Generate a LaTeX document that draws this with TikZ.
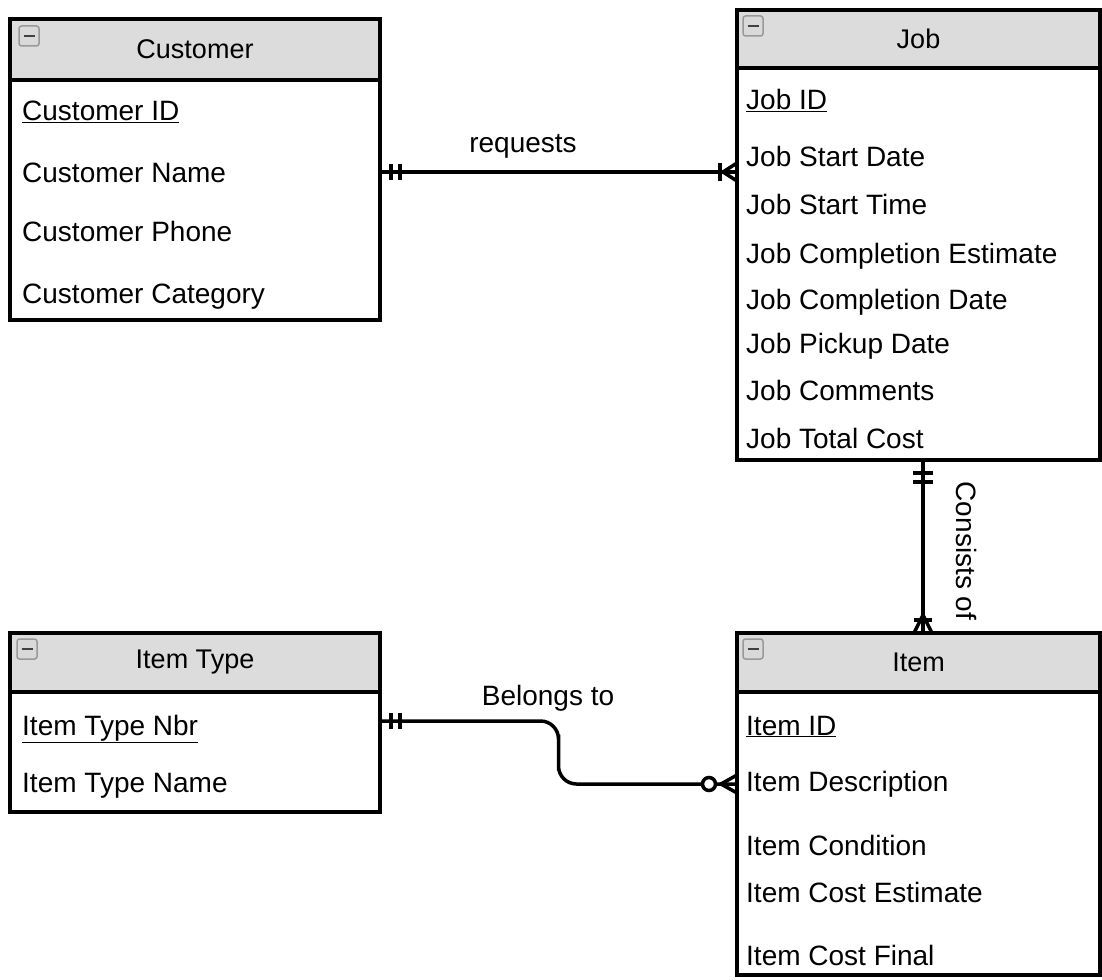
\documentclass[tikz,border=0pt]{standalone}
\usepackage{fontspec}
\setmainfont{Liberation Sans}
\usepackage{tikz}
\usetikzlibrary{calc, positioning}
\usepackage{xcolor}
\definecolor{headgray}{HTML}{DCDCDC}
\newcommand{\attrfont}{\fontsize{28}{34}\selectfont}
\newcommand{\headfont}{\fontsize{27}{32}\selectfont}
\newcommand{\pkey}[1]{\underline{#1}}

\begin{document}
\begin{tikzpicture}[x=1pt, y=-1pt,
    entbody/.style={draw, line width=4pt, anchor=north west, inner sep=0pt, outer sep=0pt},
    enthead/.style={entbody, fill=headgray, font=\headfont},
    minusbox/.style={draw=gray!80, fill=gray!30, rounded corners=2.5pt, line width=1.5pt,
        minimum size=20pt, inner sep=0pt,
        path picture={\draw[line width=2.5pt, black!75]
            ([xshift=4.5pt]path picture bounding box.west) --
            ([xshift=-4.5pt]path picture bounding box.east);}},
    attr/.style={anchor=base west, inner sep=0pt, font=\attrfont},
    rel/.style={line width=3.5pt},
    relmark/.style={line width=4pt},
    rellabel/.style={inner sep=0pt, font=\attrfont}]
    \useasboundingbox (0,0) rectangle (1102,979);

    % Customer
    \node[enthead, minimum width=370pt, minimum height=61pt] (custhead) at (10,19) {Customer};
    \node[entbody, minimum width=370pt, minimum height=240pt] (cust) at (custhead.south west) {};
    \node[minusbox] (custicon) at ($(custhead.north west)+(19,17)$) {};
    \node[attr] (custid) at (22,121) {\pkey{Customer ID}};
    \node[attr] (custname) at (22,182) {Customer Name};
    \node[attr] (custphone) at (22,241) {Customer Phone};
    \node[attr] (custcat) at (22,303) {Customer Category};

    % Job
    \node[enthead, minimum width=363pt, minimum height=58pt] (jobhead) at (737,10) {Job};
    \node[entbody, minimum width=363pt, minimum height=392pt] (job) at (jobhead.south west) {};
    \node[minusbox] (jobicon) at ($(jobhead.north west)+(16,16)$) {};
    \node[attr] (jobid) at (746,110) {\pkey{Job ID}};
    \node[attr] (jobstartd) at (746,166) {Job Start Date};
    \node[attr] (jobstartt) at (746,214) {Job Start Time};
    \node[attr] (jobest) at (746,263) {Job Completion Estimate};
    \node[attr] (jobcompl) at (746,309) {Job Completion Date};
    \node[attr] (jobpick) at (746,353) {Job Pickup Date};
    \node[attr] (jobcomm) at (746,400) {Job Comments};
    \node[attr] (jobcost) at (746,448) {Job Total Cost};

    % Item Type
    \node[enthead, minimum width=370pt, minimum height=59pt] (itypehead) at (10,633) {Item Type};
    \node[entbody, minimum width=370pt, minimum height=120pt] (itype) at (itypehead.south west) {};
    \node[minusbox] (itypeicon) at ($(itypehead.north west)+(17,16)$) {};
    \node[attr] (itypenbr) at (22,735) {\pkey{Item Type Nbr}};
    \node[attr] (itypename) at (22,792) {Item Type Name};

    % Item
    \node[enthead, minimum width=363pt, minimum height=59pt] (itemhead) at (737,633) {Item};
    \node[entbody, minimum width=363pt, minimum height=283pt] (item) at (itemhead.south west) {};
    \node[minusbox] (itemicon) at ($(itemhead.north west)+(16,16)$) {};
    \node[attr] (itemid) at (746,735) {\pkey{Item ID}};
    \node[attr] (itemdesc) at (746,791) {Item Description};
    \node[attr] (itemcond) at (746,855) {Item Condition};
    \node[attr] (itemest) at (746,902) {Item Cost Estimate};
    \node[attr] (itemfinal) at (746,965) {Item Cost Final};

    % requests: Customer (one and only one) -- Job (one or many)
    \coordinate (reqA) at (cust.east |- 0,172);
    \coordinate (reqB) at (job.west |- 0,172);
    \draw[rel] (reqA) -- (reqB);
    \node[rellabel, anchor=base] (reqlabel) at (523,152) {requests};
    \draw[relmark] ($(reqA)+(11,-8)$) -- ++(0,16);
    \draw[relmark] ($(reqA)+(20,-8)$) -- ++(0,16);
    \draw[relmark] ($(reqB)+(-17,-9)$) -- ++(0,18);
    \draw[rel] ($(reqB)+(0,-9)$) -- ($(reqB)+(-14,0)$) -- ($(reqB)+(0,9)$);

    % Consists of: Job (one and only one) -- Item (one or many)
    \coordinate (conA) at (job.south -| 923,0);
    \coordinate (conB) at (itemhead.north -| 923,0);
    \draw[rel] (conA) -- (conB);
    \node[rellabel, rotate=-90] (conlabel) at (966,551) {Consists of};
    \draw[relmark] ($(conA)+(-10,13)$) -- ++(20,0);
    \draw[relmark] ($(conA)+(-10,22)$) -- ++(20,0);
    \draw[relmark] ($(conB)+(-9,-13)$) -- ++(18,0);
    \draw[rel] ($(conB)+(-9,0)$) -- ($(conB)+(0,-18)$) -- ($(conB)+(9,0)$);

    % Belongs to: Item Type (one and only one) -- Item (zero or many)
    \coordinate (belA) at (itype.east |- 0,721);
    \coordinate (belB) at (item.west |- 0,784);
    \draw[rel, rounded corners=18pt] (belA) -| ($(belA)!.5!(belB)$) |- (belB);
    \node[rellabel, anchor=base] (bellabel) at (548,705) {Belongs to};
    \draw[relmark] ($(belA)+(11,-8)$) -- ++(0,16);
    \draw[relmark] ($(belA)+(20,-8)$) -- ++(0,16);
    \draw[rel] ($(belB)+(0,-9)$) -- ($(belB)+(-16,0)$) -- ($(belB)+(0,9)$);
    \draw[rel, fill=white] ($(belB)+(-28,0)$) circle[radius=6.5pt];
\end{tikzpicture}
\end{document}
